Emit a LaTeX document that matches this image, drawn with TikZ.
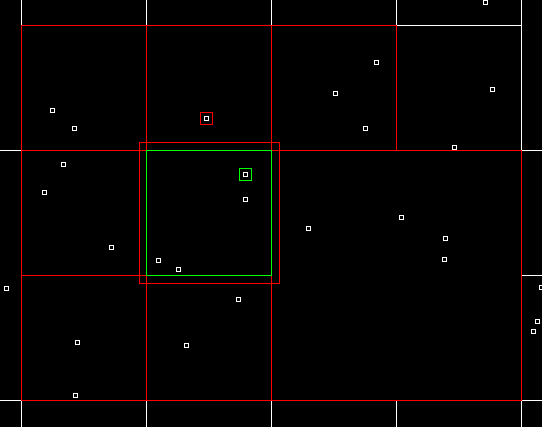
\documentclass[tikz,border=0pt]{standalone}
\begin{document}
\begin{tikzpicture}[x=1pt,y=-1pt,
  gridw/.style={draw=white,line width=1pt},
  cellr/.style={draw=red,line width=1pt},
  cellg/.style={draw=green,line width=1pt},
  pt/.style={draw=white,line width=1pt,rectangle,minimum size=4pt,inner sep=0pt,outer sep=0pt},
  hitr/.style={draw=red,line width=1pt,rectangle,minimum size=12pt,inner sep=0pt,outer sep=0pt},
  hitg/.style={draw=green,line width=1pt,rectangle,minimum size=12pt,inner sep=0pt,outer sep=0pt}]
\fill[black] (0,0) rectangle (542,427);
\useasboundingbox (0,0) rectangle (542,427);
% white cell boundaries
\draw[gridw] (21.5,0) -- (21.5,25.5) (146.5,0) -- (146.5,25.5) (271.5,0) -- (271.5,25.5)
  (396.5,0) -- (396.5,25.5) (521.5,0) -- (521.5,150.5);
\draw[gridw] (21.5,400.5) -- (21.5,427) (146.5,400.5) -- (146.5,427) (271.5,400.5) -- (271.5,427)
  (396.5,400.5) -- (396.5,427) (521.5,400.5) -- (521.5,427);
\draw[gridw] (396.5,25.5) -- (521.5,25.5);
\draw[gridw] (0,150.5) -- (21.5,150.5) (521.5,150.5) -- (542,150.5) (521.5,275.5) -- (542,275.5)
  (0,400.5) -- (21.5,400.5) (521.5,400.5) -- (542,400.5);
% red cells
\draw[cellr] (21.5,25.5) rectangle (146.5,150.5);
\draw[cellr] (146.5,25.5) rectangle (271.5,150.5);
\draw[cellr] (271.5,25.5) rectangle (396.5,150.5);
\draw[cellr] (21.5,150.5) rectangle (146.5,275.5);
\draw[cellr] (21.5,275.5) rectangle (146.5,400.5);
\draw[cellr] (146.5,275.5) rectangle (271.5,400.5);
\draw[cellr] (271.5,150.5) rectangle (521.5,400.5);
% green cell
\draw[cellg] (146.5,150.5) rectangle (271.5,275.5);
% query range
\draw[cellr] (139.5,142.5) rectangle (279.5,283.5);
% points
\foreach \x/\y [count=\i] in {50/108, 72/126, 204/116, 483/0, 374/60, 333/91, 490/87, 363/126,
  452/145, 61/162, 42/190, 109/245, 156/258, 176/267, 243/172, 243/197, 4/286, 306/226,
  399/215, 443/236, 442/257, 539/285, 236/297, 75/340, 184/343, 73/393, 535/319, 531/329}
  \node[pt] (p\i) at (\x+2.5,\y+2.5) {};
\node[hitr] (h1) at (p3) {};
\node[hitg] (h2) at (p15) {};
\end{tikzpicture}
\end{document}
